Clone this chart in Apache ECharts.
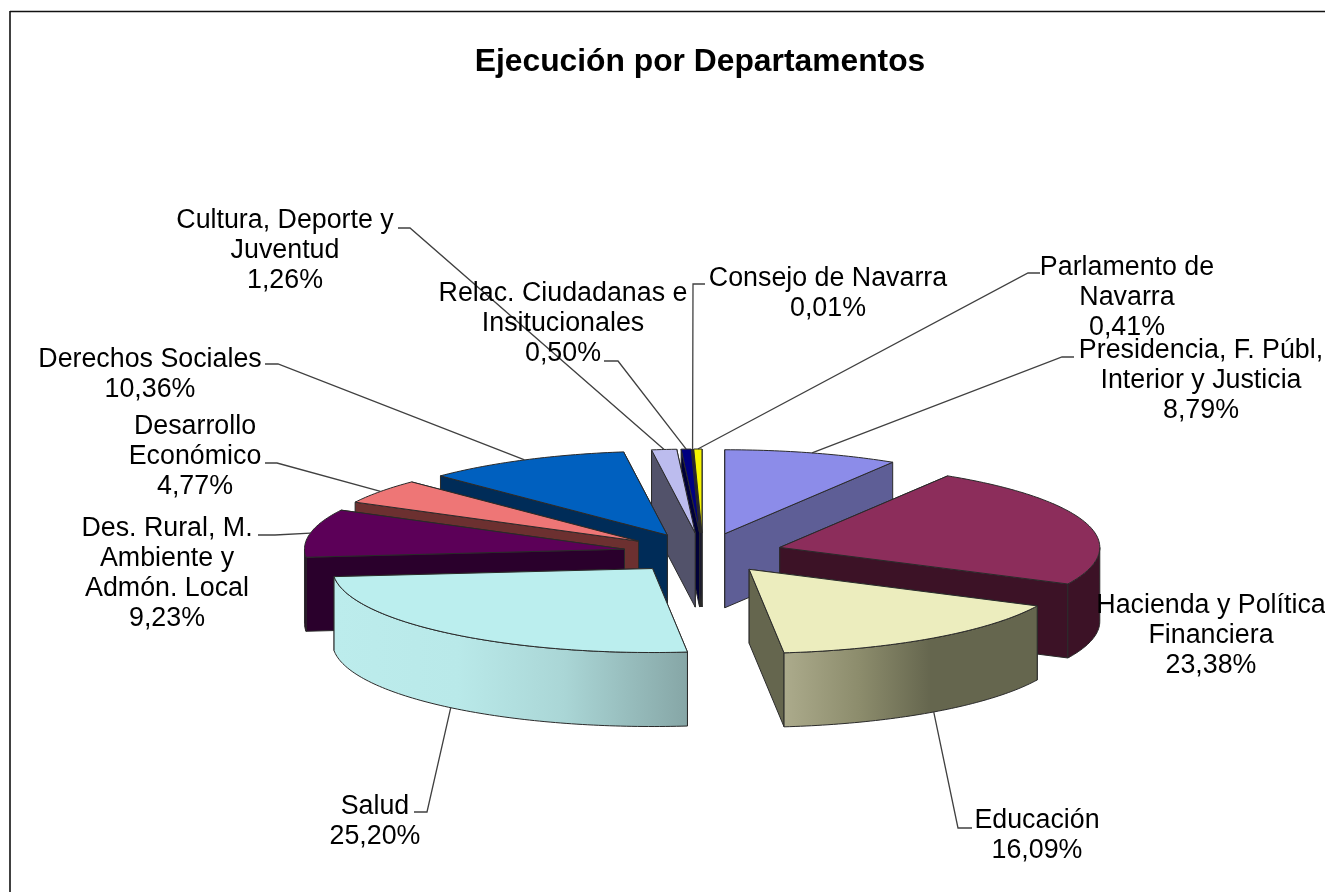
<!DOCTYPE html>
<html>
<head>
<meta charset="utf-8">
<title>Ejecución por Departamentos</title>
<script src="https://cdn.jsdelivr.net/npm/echarts@6/dist/echarts.min.js"></script>
<style>
    html, body { margin: 0; padding: 0; background: #fff; }
    #chart { width: 1325px; height: 892px; }
</style>
</head>
<body>
<div id="chart"></div>
<script>
// data, clockwise from 12 o'clock
var categories = [
    'Presidencia, F. Públ,\nInterior y Justicia',
    'Hacienda y Política\nFinanciera',
    'Educación',
    'Salud',
    'Des. Rural, M.\nAmbiente y\nAdmón. Local',
    'Desarrollo\nEconómico',
    'Derechos Sociales',
    'Cultura, Deporte y\nJuventud',
    'Relac. Ciudadanas e\nInsitucionales',
    'Consejo de Navarra',
    'Parlamento de\nNavarra'
];
var shares = [8.79, 23.38, 16.09, 25.20, 9.23, 4.77, 10.36, 1.26, 0.50, 0.01, 0.41];

// colours per slice
var topColors = ['#8c8ce9', '#8c2d5b', '#ecedbe', '#bbeeee', '#5c0058', '#ee7676', '#0060bf', '#bcbcee', '#000080', '#e000e0', '#f6f600'];
var sideColors = ['#5e5e96', '#3c1226', '#65664e', '#86a6a6', '#2a002c', '#6c3030', '#002c58', '#52526a', '#000038', '#000038', '#000038'];
var wallStops = {
    1: [[0, '#3c1226'], [1, '#3c1226']],
    2: [[0, '#acab8c'], [0.3, '#8c8c6c'], [0.58, '#65664e'], [1, '#65664e']],
    3: [[0, '#bcecec'], [0.35, '#b9e9e9'], [0.65, '#aad6d6'], [1, '#86a6a6']],
    4: [[0, '#2a002c'], [1, '#2a002c']]
};

// layout: label centre x, first line y, leader elbow points
var labelX = [1201, 1211, 1037, 375, 167, 195, 150, 285, 563, 828, 1127];
var labelY = [351, 606, 821, 807, 529, 427, 360, 221, 294, 279, 268];
var leaderStart = [[1074, 357], null, [972, 828], [414, 812], [258, 535], [265, 463], [265, 364], [398, 228], [604, 361], [705, 284], [1040, 273]];
var leaderElbow = [[1062, 357], null, [958, 828], [427, 812], [275, 535], [277, 463], [278, 364], [410, 228], [618, 361], [693, 284], [1028, 273]];

var cx = 703, cy = 553, rx = 320, ry = 84;
var explodeX = 80, explodeY = 20, depth = 74;
var labelFont = '26.8px "Liberation Sans", Arial, sans-serif';
var edge = { stroke: '#2a2a2a', lineWidth: 1 };

function rad(d) { return d * Math.PI / 180; }

var total = shares.reduce(function (a, b) { return a + b; }, 0);
var acc = 0;
var slices = shares.map(function (v, i) {
    var start = acc / total * 360;
    acc += v;
    var end = acc / total * 360;
    var mid = (start + end) / 2;
    return {
        index: i, start: start, end: end, mid: mid,
        ax: cx + explodeX * Math.sin(rad(mid)),
        ay: cy - explodeY * Math.cos(rad(mid))
    };
});

function rimPoint(s, deg, down) {
    return [s.ax + rx * Math.sin(rad(deg)), s.ay - ry * Math.cos(rad(deg)) + (down || 0)];
}

function arcPoints(s, from, to, down) {
    var pts = [];
    var n = Math.max(1, Math.ceil(to - from));
    for (var k = 0; k <= n; k++) {
        pts.push(rimPoint(s, from + (to - from) * k / n, down));
    }
    return pts;
}

function radialWall(s, deg, color) {
    var p = rimPoint(s, deg);
    return {
        type: 'polygon',
        shape: { points: [[s.ax, s.ay], p, [p[0], p[1] + depth], [s.ax, s.ay + depth]] },
        style: { fill: color, stroke: edge.stroke, lineWidth: edge.lineWidth }
    };
}

function renderSlice(params, api) {
    var s = slices[api.value(0)];
    var color = sideColors[s.index];
    var children = [];
    // the wall further back goes first
    var startFirst = Math.cos(rad(s.start)) > Math.cos(rad(s.end));
    children.push(radialWall(s, startFirst ? s.start : s.end, color));
    children.push(radialWall(s, startFirst ? s.end : s.start, color));
    var from = Math.max(s.start, 90), to = Math.min(s.end, 270);
    if (to > from) {
        var stops = (wallStops[s.index] || [[0, color], [1, color]]).map(function (st) {
            return { offset: st[0], color: st[1] };
        });
        children.push({
            type: 'polygon',
            shape: { points: arcPoints(s, from, to).concat(arcPoints(s, from, to, depth).reverse()) },
            style: {
                fill: new echarts.graphic.LinearGradient(0, 0, 1, 0, stops),
                stroke: edge.stroke, lineWidth: edge.lineWidth
            }
        });
    }
    children.push({
        type: 'polygon',
        shape: { points: [[s.ax, s.ay]].concat(arcPoints(s, s.start, s.end)) },
        style: { fill: topColors[s.index], stroke: edge.stroke, lineWidth: edge.lineWidth }
    });
    return { type: 'group', children: children };
}

function renderLabel(params, api) {
    var i = api.value(0);
    var s = slices[i];
    var children = [];
    if (leaderStart[i]) {
        var front = Math.cos(rad(s.mid)) < 0;
        children.push({
            type: 'polyline',
            shape: { points: [leaderStart[i], leaderElbow[i], rimPoint(s, s.mid, front ? depth : 0)] },
            style: { fill: null, stroke: '#404040', lineWidth: 1.3 }
        });
    }
    var lines = categories[i].split('\n');
    lines.push(shares[i].toFixed(2).replace('.', ',') + '%');
    lines.forEach(function (line, k) {
        children.push({
            type: 'text',
            style: {
                text: line, x: labelX[i], y: labelY[i] + k * 30,
                align: 'center', verticalAlign: 'middle',
                font: labelFont, fill: '#000'
            }
        });
    });
    return { type: 'group', children: children };
}

// back to front
var drawOrder = slices.slice().sort(function (a, b) { return a.ay - b.ay; }).map(function (s) { return s.index; });

var myChart = echarts.init(document.getElementById('chart'), null, { renderer: 'canvas' });
myChart.setOption({
    animation: false,
    backgroundColor: '#fff',
    title: {
        text: 'Ejecución por Departamentos',
        left: 695, top: 41, textAlign: 'center',
        textStyle: { fontFamily: '"Liberation Sans", Arial, sans-serif', fontWeight: 'bold', fontSize: 31.8, color: '#000' }
    },
    graphic: [
        { type: 'line', shape: { x1: 10, y1: 11.5, x2: 1325, y2: 11.5 }, style: { stroke: '#111', lineWidth: 1.6 } },
        { type: 'line', shape: { x1: 10, y1: 11, x2: 10, y2: 892 }, style: { stroke: '#111', lineWidth: 1.6 } }
    ],
    series: [
        { type: 'custom', coordinateSystem: 'none', renderItem: renderSlice, data: drawOrder.map(function (i) { return [i]; }), z: 2, silent: true },
        { type: 'custom', coordinateSystem: 'none', renderItem: renderLabel, data: categories.map(function (c, i) { return [i]; }), z: 3, silent: true }
    ]
});
</script>
</body>
</html>
